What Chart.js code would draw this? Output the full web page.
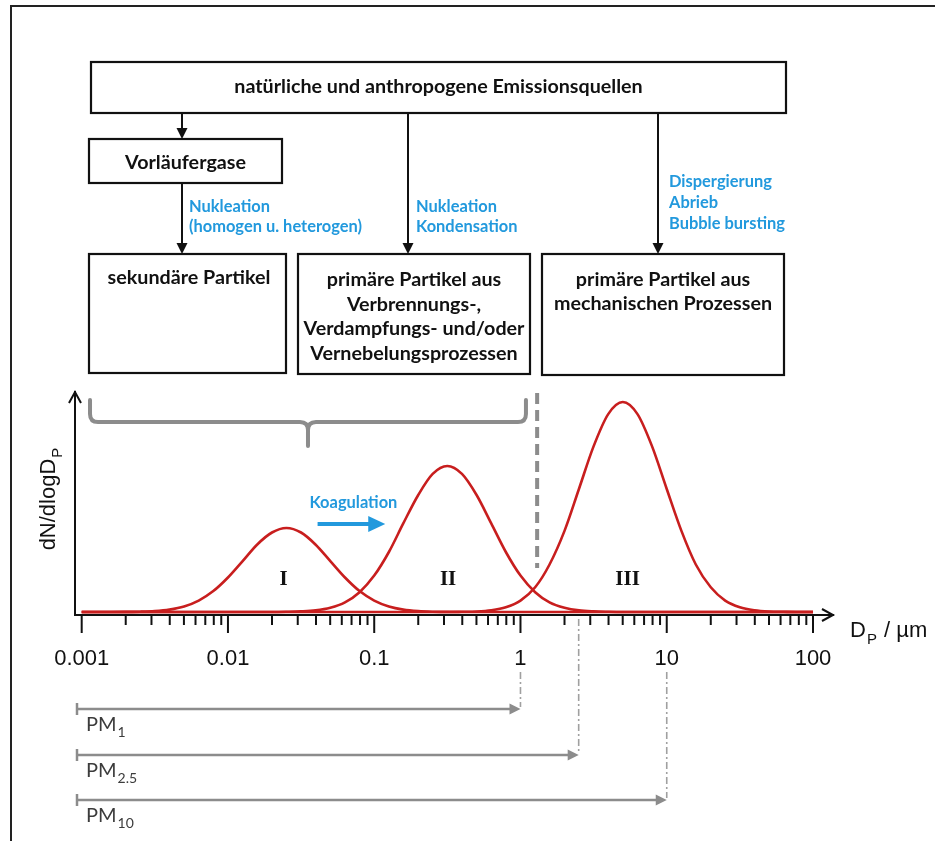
<!DOCTYPE html>
<html lang="de">
<head>
<meta charset="utf-8">
<title>Partikelgrößenverteilung</title>
<script src="https://cdn.jsdelivr.net/npm/chart.js@4.4.1/dist/chart.umd.min.js"></script>
<style>
  html, body { margin: 0; padding: 0; background: #ffffff; }
  canvas { display: block; }
</style>
</head>
<body>
<canvas id="chart" width="935" height="841"></canvas>
<script>
// Particle diameter grid D_P in µm, ten steps per decade
const diameters = [
  0.001, 0.00126, 0.00158, 0.002, 0.00251, 0.00316, 0.00398, 0.00501, 0.00631, 0.00794,
  0.01, 0.0126, 0.0158, 0.02, 0.0251, 0.0316, 0.0398, 0.0501, 0.0631, 0.0794,
  0.1, 0.126, 0.158, 0.2, 0.251, 0.316, 0.398, 0.501, 0.631, 0.794,
  1, 1.26, 1.58, 2, 2.51, 3.16, 3.98, 5.01, 6.31, 7.94,
  10, 12.6, 15.8, 20, 25.1, 31.6, 39.8, 50.1, 63.1, 79.4, 100
];

// dN/dlogD_P (relative units) of the three modes
const modeI = [
  0, 0, 0, 0.1, 0.3, 0.9, 2.4, 5.5, 11.4, 20.9,
  34.5, 50.9, 67.3, 79.5, 84, 79.5, 67.3, 50.9, 34.5, 20.9,
  11.4, 5.5, 2.4, 0.9, 0.3, 0.1, 0, 0, 0, 0,
  0, 0, 0, 0, 0, 0, 0, 0, 0, 0,
  0, 0, 0, 0, 0, 0, 0, 0, 0, 0, 0
];
const modeII = [
  0, 0, 0, 0, 0, 0, 0, 0, 0, 0,
  0, 0, 0, 0, 0.2, 0.6, 1.6, 4.2, 9.6, 19.8,
  36.4, 60, 88.6, 117, 138.1, 146, 138.1, 117, 88.6, 60,
  36.4, 19.8, 9.6, 4.2, 1.6, 0.6, 0.2, 0, 0, 0,
  0, 0, 0, 0, 0, 0, 0, 0, 0, 0, 0
];
const modeIII = [
  0, 0, 0, 0, 0, 0, 0, 0, 0, 0,
  0, 0, 0, 0, 0, 0, 0, 0, 0, 0,
  0, 0, 0, 0, 0, 0, 0.2, 0.5, 1.7, 4.7,
  11.4, 24.7, 47.5, 81.1, 123, 165.6, 197.9, 210, 197.9, 165.6,
  123, 81.1, 47.5, 24.7, 11.4, 4.7, 1.7, 0.5, 0.2, 0, 0
];
const modeNames = ['I', 'II', 'III'];
const modeNameAt = [0.024, 0.32, 5.4];

// Axis ticks
const decadeTicks = [0.001, 0.01, 0.1, 1, 10, 100];
const decadeLabels = ['0.001', '0.01', '0.1', '1', '10', '100'];
const xRange = [0.0009, 137];
const yRange = [-3, 220];

// PM size classes (upper cut-off in µm)
const pmCutoffs = [1, 2.5, 10];
const pmSubscripts = ['1', '2.5', '10'];

// Fine-particle range (brace) and boundary to the coarse mode
const fineSpan = [0.00114, 1.09];
const fineBoundary = 1.3;
const coagulationSpan = [0.041, 0.119];

const tickValues = [];
decadeTicks.forEach((d, i) => {
  tickValues.push(d);
  if (i < decadeTicks.length - 1) for (let m = 2; m <= 9; m++) tickValues.push(d * m);
});

const SANS = '"Liberation Sans", Arial, sans-serif';
const BOXFONT = 'Lato, "Open Sans", sans-serif';
const SERIF = '"Liberation Serif", "Times New Roman", serif';
const BLUE = '#2299dd';
const GREY = '#8c8c8c';
const RED = '#c81e1e';
const INK = '#111111';

function fitSize(ctx, text, width, weight, family) {
  ctx.font = `${weight} 100px ${family}`;
  return 100 * width / ctx.measureText(text).width;
}
function seg(ctx, x1, y1, x2, y2) {
  ctx.beginPath(); ctx.moveTo(x1, y1); ctx.lineTo(x2, y2); ctx.stroke();
}
function tri(ctx, a, b, c) {
  ctx.beginPath(); ctx.moveTo(a[0], a[1]); ctx.lineTo(b[0], b[1]); ctx.lineTo(c[0], c[1]);
  ctx.closePath(); ctx.fill();
}
function downArrow(ctx, x, y1, y2) {
  seg(ctx, x, y1, x, y2 - 8);
  tri(ctx, [x - 5.5, y2 - 11], [x + 5.5, y2 - 11], [x, y2]);
}
function withSub(ctx, main, sub, x, y, size, subSize, family, weight, align) {
  ctx.font = `${weight} ${size}px ${family}`;
  const w1 = ctx.measureText(main).width;
  ctx.font = `${weight} ${subSize}px ${family}`;
  const w2 = ctx.measureText(sub).width;
  let x0 = x;
  if (align === 'center') x0 = x - (w1 + w2 + 1) / 2;
  ctx.textAlign = 'left';
  ctx.font = `${weight} ${size}px ${family}`;
  ctx.fillText(main, x0, y);
  ctx.font = `${weight} ${subSize}px ${family}`;
  ctx.fillText(sub, x0 + w1 + 1, y + size * 0.3);
}

const diagram = {
  id: 'diagram',
  afterDraw(chart) {
    const ctx = chart.ctx;
    const xs = chart.scales.x;
    const area = chart.chartArea;
    ctx.save();
    ctx.textBaseline = 'alphabetic';

    // outer frame
    ctx.strokeStyle = '#222'; ctx.lineWidth = 2;
    ctx.beginPath(); ctx.moveTo(11, 841); ctx.lineTo(11, 6); ctx.lineTo(935, 6); ctx.stroke();

    // flow chart boxes
    ctx.strokeStyle = INK; ctx.fillStyle = INK; ctx.lineWidth = 2.2;
    ctx.strokeRect(91, 62, 695, 51);
    ctx.strokeRect(89, 139, 193, 44);
    ctx.strokeRect(89, 254, 197, 119);
    ctx.strokeRect(298, 254, 232, 120);
    ctx.strokeRect(542, 254, 242, 121);

    ctx.lineWidth = 2;
    downArrow(ctx, 182, 113, 139);
    downArrow(ctx, 182, 183, 254);
    downArrow(ctx, 408, 113, 254);
    downArrow(ctx, 658, 113, 254);

    const bs = fitSize(ctx, 'Verdampfungs- und/oder', 221, 700, BOXFONT);
    ctx.font = `700 ${bs}px ${BOXFONT}`;
    ctx.textAlign = 'center';
    ctx.fillText('natürliche und anthropogene Emissionsquellen', 438.5, 93);
    ctx.fillText('Vorläufergase', 185.5, 169);
    ctx.fillText('sekundäre Partikel', 189, 284);
    ['primäre Partikel aus', 'Verbrennungs-,', 'Verdampfungs- und/oder', 'Vernebelungsprozessen']
      .forEach((t, i) => ctx.fillText(t, 414, 286 + i * 24.5));
    ['primäre Partikel aus', 'mechanischen Prozessen']
      .forEach((t, i) => ctx.fillText(t, 663, 286 + i * 24));

    // process annotations
    const ps = fitSize(ctx, 'Bubble bursting', 116, 700, BOXFONT);
    ctx.font = `700 ${ps}px ${BOXFONT}`;
    ctx.fillStyle = BLUE; ctx.textAlign = 'left';
    ctx.fillText('Nukleation', 189, 212);
    ctx.fillText('(homogen u. heterogen)', 189, 232);
    ctx.fillText('Nukleation', 416, 212);
    ctx.fillText('Kondensation', 416, 232);
    ctx.fillText('Dispergierung', 669, 187);
    ctx.fillText('Abrieb', 669, 208);
    ctx.fillText('Bubble bursting', 669, 229);

    // coagulation arrow
    const ks = fitSize(ctx, 'Koagulation', 88, 700, BOXFONT);
    ctx.font = `700 ${ks}px ${BOXFONT}`;
    ctx.textAlign = 'center';
    const ka = xs.getPixelForValue(coagulationSpan[0]);
    const kb = xs.getPixelForValue(coagulationSpan[1]);
    ctx.fillText('Koagulation', (ka + kb) / 2 + 2, 508);
    ctx.strokeStyle = BLUE; ctx.lineWidth = 4; ctx.lineCap = 'butt';
    seg(ctx, ka, 524, kb - 14, 524);
    tri(ctx, [kb - 17, 516], [kb - 17, 532], [kb, 524]);

    // brace over the fine-particle range
    const b1 = xs.getPixelForValue(fineSpan[0]);
    const b2 = xs.getPixelForValue(fineSpan[1]);
    const bm = (b1 + b2) / 2;
    const top = 400, hy = 422, tip = 446, r = 8;
    ctx.strokeStyle = GREY; ctx.lineWidth = 4; ctx.lineCap = 'round'; ctx.lineJoin = 'round';
    ctx.beginPath();
    ctx.moveTo(b1, top); ctx.lineTo(b1, hy - r); ctx.quadraticCurveTo(b1, hy, b1 + r, hy);
    ctx.lineTo(bm - r, hy); ctx.quadraticCurveTo(bm, hy, bm, hy + r); ctx.lineTo(bm, tip);
    ctx.moveTo(bm, hy + r); ctx.quadraticCurveTo(bm, hy, bm + r, hy);
    ctx.lineTo(b2 - r, hy); ctx.quadraticCurveTo(b2, hy, b2, hy - r); ctx.lineTo(b2, top);
    ctx.stroke();

    // boundary fine / coarse
    const fb = xs.getPixelForValue(fineBoundary);
    ctx.lineCap = 'butt'; ctx.setLineDash([11, 6]);
    seg(ctx, fb, 393, fb, 568);
    ctx.setLineDash([]);

    // mode numbers
    ctx.fillStyle = INK; ctx.textAlign = 'center';
    ctx.font = `700 21px ${SERIF}`;
    modeNames.forEach((n, i) => ctx.fillText(n, xs.getPixelForValue(modeNameAt[i]), 585));

    // axis arrows and tick marks
    ctx.strokeStyle = INK; ctx.lineWidth = 2; ctx.lineCap = 'butt'; ctx.lineJoin = 'miter';
    ctx.beginPath();
    ctx.moveTo(area.right - 11, area.bottom - 6); ctx.lineTo(area.right, area.bottom);
    ctx.lineTo(area.right - 11, area.bottom + 6); ctx.stroke();
    ctx.beginPath();
    ctx.moveTo(area.left - 6, area.top + 11); ctx.lineTo(area.left, area.top);
    ctx.lineTo(area.left + 6, area.top + 11); ctx.stroke();
    xs.ticks.forEach(t => {
      const px = xs.getPixelForValue(t.value);
      const len = decadeTicks.includes(t.value) ? 18 : 10;
      seg(ctx, px, area.bottom, px, area.bottom + len);
    });

    // axis titles
    ctx.fillStyle = INK;
    withSub(ctx, 'D', 'P', 850, 637, 22, 15, SANS, 400, 'left');
    ctx.font = `400 22px ${SANS}`;
    ctx.textAlign = 'left';
    ctx.fillText('/ µm', 884, 637);
    ctx.save();
    ctx.translate(0, 499);
    ctx.rotate(-Math.PI / 2);
    ctx.translate(0, 0);
    ctx.restore();
    ctx.save();
    ctx.translate(55, 499);
    ctx.rotate(-Math.PI / 2);
    withSub(ctx, 'dN/dlogD', 'P', 0, 0, 22, 15, SANS, 400, 'center');
    ctx.restore();

    // PM size classes
    const rowY = [709, 755, 800];
    const x0 = area.left + 2;
    pmCutoffs.forEach((c, i) => {
      const xe = xs.getPixelForValue(c);
      const y = rowY[i];
      ctx.strokeStyle = GREY; ctx.fillStyle = GREY; ctx.lineWidth = 2.5;
      seg(ctx, x0, y - 6, x0, y + 6);
      seg(ctx, x0, y, xe - 9, y);
      tri(ctx, [xe - 11, y - 5.5], [xe - 11, y + 5.5], [xe, y]);
      ctx.strokeStyle = '#a0a0a0'; ctx.lineWidth = 1.6; ctx.setLineDash([7, 3, 2, 3]);
      const yStart = c === 2.5 ? area.bottom + 4 : 672;
      seg(ctx, xe, yStart, xe, y - 2);
      ctx.setLineDash([]);
      ctx.fillStyle = '#3c3c3c';
      withSub(ctx, 'PM', pmSubscripts[i], 86, y + 22, 20, 14, BOXFONT, 400, 'left');
    });

    ctx.restore();
  }
};

new Chart(document.getElementById('chart'), {
  type: 'line',
  data: {
    datasets: [modeI, modeII, modeIII].map((vals, i) => ({
      label: modeNames[i],
      data: diameters.map((d, k) => ({ x: d, y: vals[k] })),
      borderColor: RED,
      borderWidth: 2.6,
      pointRadius: 0,
      fill: false,
      cubicInterpolationMode: 'monotone'
    }))
  },
  options: {
    responsive: false,
    animation: false,
    devicePixelRatio: 1,
    layout: { padding: { left: 75, right: 102, top: 392, bottom: 0 } },
    plugins: { legend: { display: false }, tooltip: { enabled: false }, title: { display: false } },
    scales: {
      x: {
        type: 'logarithmic',
        position: 'bottom',
        min: xRange[0],
        max: xRange[1],
        afterBuildTicks: s => { s.ticks = tickValues.map(v => ({ value: v })); },
        afterFit: s => { s.height = 226; },
        grid: { display: false, drawTicks: false },
        border: { display: true, color: INK, width: 2 },
        ticks: {
          autoSkip: false, maxRotation: 0, minRotation: 0, padding: 31, color: INK,
          font: { family: 'Liberation Sans', size: 22 },
          callback: v => { const i = decadeTicks.indexOf(v); return i >= 0 ? decadeLabels[i] : ''; }
        }
      },
      y: {
        type: 'linear',
        min: yRange[0],
        max: yRange[1],
        afterFit: s => { s.width = 0; },
        grid: { display: false, drawTicks: false },
        border: { display: true, color: INK, width: 2 },
        ticks: { display: false }
      }
    }
  },
  plugins: [diagram]
});
</script>
</body>
</html>
